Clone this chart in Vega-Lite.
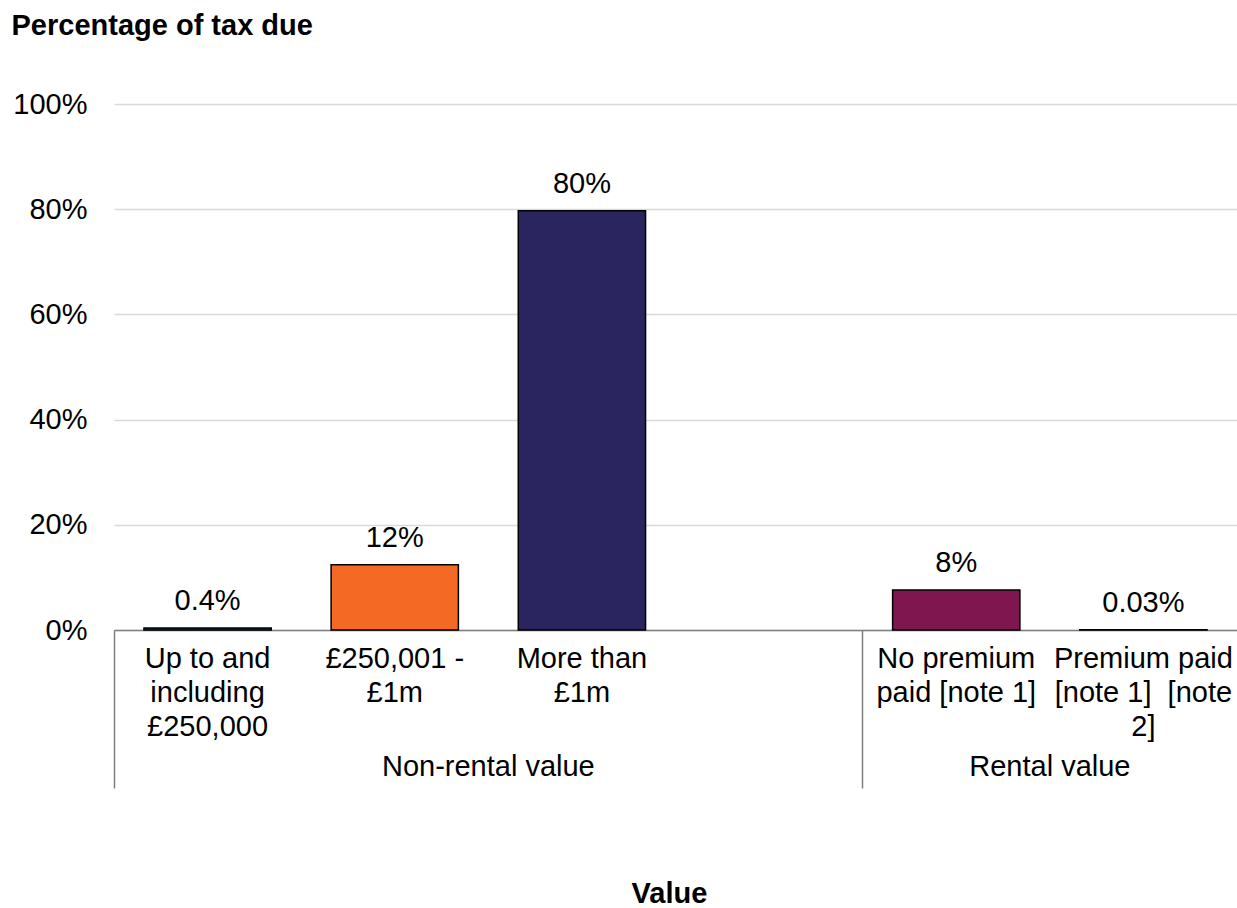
{
  "$schema": "https://vega.github.io/schema/vega-lite/v6.json",
  "width": 1123,
  "height": 526,
  "padding": {"left": 11, "top": 11, "right": 0, "bottom": 0},
  "background": "white",
  "config": {
    "font": "Liberation Sans",
    "view": {"stroke": null}
  },
  "data": {
    "values": [
      {"category": "Up to and including £250,000", "group": "Non-rental value", "share": 0.004, "label": "0.4%"},
      {"category": "£250,001 - £1m", "group": "Non-rental value", "share": 0.124, "label": "12%"},
      {"category": "More than £1m", "group": "Non-rental value", "share": 0.797, "label": "80%"},
      {"category": "No premium paid [note 1]", "group": "Rental value", "share": 0.076, "label": "8%"},
      {"category": "Premium paid [note 1] [note 2]", "group": "Rental value", "share": 0.0003, "label": "0.03%"}
    ]
  },
  "encoding": {
    "y": {
      "field": "share",
      "type": "quantitative",
      "scale": {"domain": [0, 1], "nice": false, "zero": true},
      "axis": {
        "values": [0, 0.2, 0.4, 0.6, 0.8, 1],
        "format": ".0%",
        "domain": false,
        "ticks": false,
        "grid": true,
        "gridColor": "#D9D9D9",
        "gridWidth": 1.5,
        "labelFontSize": 29,
        "labelColor": "#000000",
        "labelPadding": 27,
        "title": "Percentage of tax due",
        "titleFontSize": 29,
        "titleFontWeight": "bold",
        "titleColor": "#000000",
        "titleAngle": 0,
        "titleAlign": "left",
        "titleBaseline": "alphabetic",
        "titleX": -103,
        "titleY": -70
      }
    }
  },
  "layer": [
    {
      "mark": {"type": "bar", "width": {"band": 0.68}, "stroke": "#000000", "strokeWidth": 1.5},
      "encoding": {
        "x": {
          "field": "category",
          "type": "nominal",
          "sort": null,
          "scale": {
            "domain": ["Up to and including £250,000", "£250,001 - £1m", "More than £1m", " ", "No premium paid [note 1]", "Premium paid [note 1] [note 2]"],
            "paddingInner": 0,
            "paddingOuter": 0
          },
          "axis": {
            "orient": "bottom",
            "title": null,
            "domain": true,
            "domainColor": "#7F7F7F",
            "domainWidth": 1.5,
            "ticks": true,
            "bandPosition": 0,
            "tickSize": 158,
            "tickColor": "#7F7F7F",
            "tickWidth": 1.5,
            "tickOpacity": {
              "condition": {"test": "datum.value === 'Up to and including £250,000' || datum.value === 'No premium paid [note 1]'", "value": 1},
              "value": 0
            },
            "grid": false,
            "labelAngle": 0,
            "labelFontSize": 29,
            "labelColor": "#000000",
            "labelBaseline": "top",
            "labelLineHeight": 34,
            "labelPadding": -144,
            "labelLimit": 0,
            "labelOverlap": false,
            "labelExpr": "datum.value === 'Up to and including £250,000' ? ['Up to and', 'including', '£250,000'] : datum.value === '£250,001 - £1m' ? ['£250,001 -', '£1m'] : datum.value === 'More than £1m' ? ['More than', '£1m'] : datum.value === 'No premium paid [note 1]' ? ['No premium', 'paid [note 1]'] : datum.value === 'Premium paid [note 1] [note 2]' ? ['Premium paid', '[note 1]\u00a0 [note', '2]'] : ''"
          }
        },
        "color": {
          "field": "category",
          "type": "nominal",
          "legend": null,
          "scale": {
            "domain": ["Up to and including £250,000", "£250,001 - £1m", "More than £1m", "No premium paid [note 1]", "Premium paid [note 1] [note 2]"],
            "range": ["#12436D", "#F46A25", "#2A255E", "#801650", "#3D3D3D"]
          }
        }
      }
    },
    {
      "mark": {"type": "text", "baseline": "alphabetic", "dy": -18, "fontSize": 29, "color": "#000000"},
      "encoding": {
        "x": {
          "field": "category",
          "type": "nominal",
          "sort": null,
          "scale": {
            "domain": ["Up to and including £250,000", "£250,001 - £1m", "More than £1m", " ", "No premium paid [note 1]", "Premium paid [note 1] [note 2]"],
            "paddingInner": 0,
            "paddingOuter": 0
          },
          "axis": {
            "orient": "bottom",
            "values": ["£250,001 - £1m", "No premium paid [note 1]"],
            "domain": false,
            "ticks": false,
            "grid": false,
            "labelAngle": 0,
            "labelFontSize": 29,
            "labelColor": "#000000",
            "labelBaseline": "alphabetic",
            "labelPadding": 145,
            "labelOffset": 93.6,
            "labelLimit": 0,
            "labelOverlap": false,
            "labelExpr": "datum.value === '£250,001 - £1m' ? 'Non-rental value' : 'Rental value'",
            "title": "Value",
            "titleFontSize": 29,
            "titleFontWeight": "bold",
            "titleColor": "#000000",
            "titleAlign": "center",
            "titleBaseline": "alphabetic",
            "titleX": 555,
            "titleY": 272
          }
        },
        "text": {"field": "label", "type": "nominal"}
      }
    }
  ],
  "resolve": {"axis": {"x": "independent"}}
}
